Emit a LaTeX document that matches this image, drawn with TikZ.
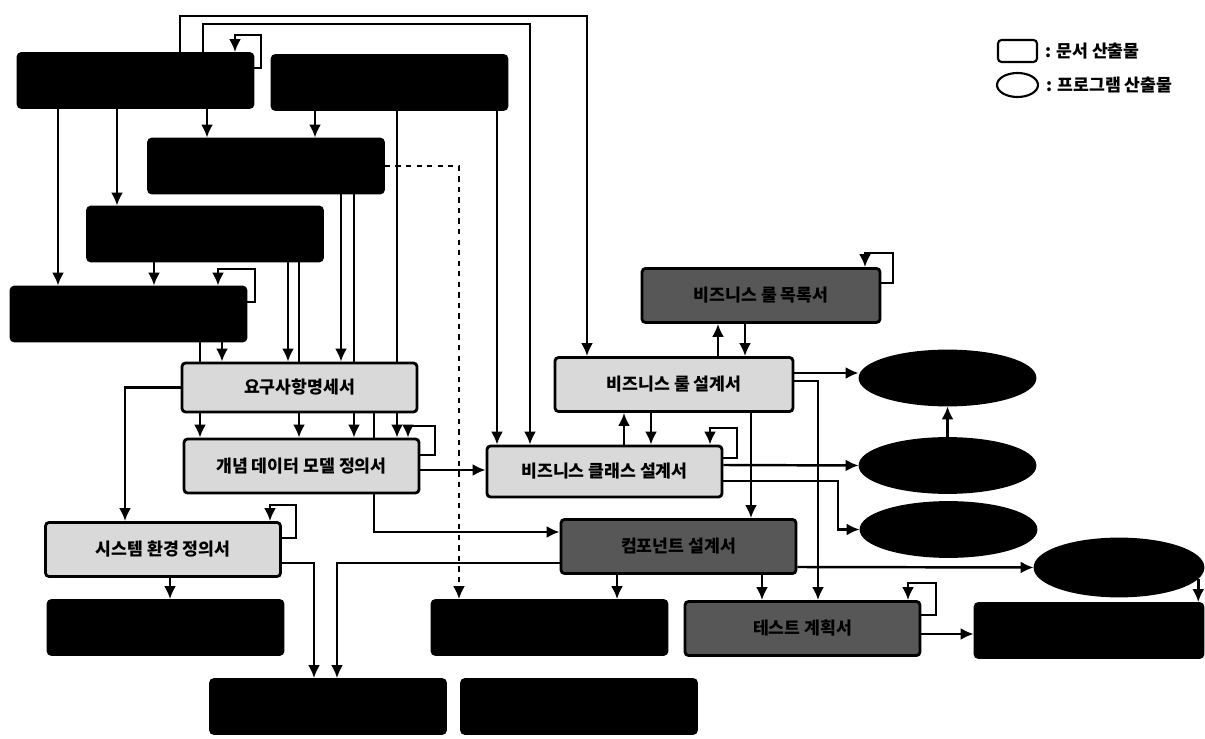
\documentclass[tikz,border=0pt]{standalone}
\usepackage{fontspec}
\setmainfont{Noto Sans CJK KR}
\usetikzlibrary{positioning,arrows.meta,shapes.geometric,backgrounds}
\tikzset{
  node distance=1mm,
  box/.style={draw=black, line width=1.6pt, rounded corners=2pt, inner sep=0pt,
              minimum width=47mm, minimum height=10.8mm},
  blk/.style={box, fill=black},
  doc/.style={box, fill=black!15, font=\fontsize{9.8}{11}\selectfont\bfseries},
  ddoc/.style={box, fill=black!66, font=\fontsize{9.8}{11}\selectfont\bfseries},
  prog/.style={ellipse, draw=black, fill=black, line width=1.6pt, inner sep=0pt,
               minimum width=35mm, minimum height=10.8mm},
  flow/.style={-{Latex[length=2.6mm,width=2.4mm]}, line width=1.4pt},
  key/.style={font=\fontsize{9.8}{11}\selectfont\bfseries, anchor=west, inner sep=1pt},
}

\begin{document}
\begin{tikzpicture}[x=0.2mm,y=-0.2mm]
  \useasboundingbox (0,0) rectangle (1205,739);

  % legend
  \node[draw, line width=1.2pt, rounded corners=2pt, inner sep=0pt,
        minimum width=7.8mm, minimum height=4.4mm] (kdoc) at (1017.5,51) {};
  \node[ellipse, draw, line width=1.2pt, inner sep=0pt,
        minimum width=8.2mm, minimum height=4.8mm] (kprog) at (1017.5,85) {};
  \node[key, right=of kdoc] (kdoctxt) {: 문서 산출물};
  \node[key, right=of kprog] (kprogtxt) {: 프로그램 산출물};

  % upper documents
  \node[blk] (B1) at (135.5,80.5) {};
  \node[blk] (B2) at (389.5,82.5) {};
  \node[blk] (B3) at (266,166) {};
  \node[blk] (B4) at (205,234) {};
  \node[blk] (B5) at (128.5,314) {};

  \node[doc, minimum height=9.8mm] (R1) at (299.5,387.5) {요구사항명세서};
  \node[doc] (R2) at (301.5,466) {개념 데이터 모델 정의서};
  \node[doc] (R3) at (163,549.5) {시스템 환경 정의서};
  \node[doc, minimum width=47.6mm] (R4) at (674,384.5) {비즈니스 룰 설계서};
  \node[doc, minimum height=10.2mm] (R5) at (604.5,471.5) {비즈니스 클래스 설계서};

  \node[ddoc, minimum width=47.6mm] (D1) at (761,295.5) {비즈니스 룰 목록서};
  \node[ddoc] (D2) at (678.5,546.5) {컴포넌트 설계서};
  \node[ddoc] (D3) at (802.5,628.5) {테스트 계획서};

  % lower documents
  \node[blk] (B6) at (165.5,627.5) {};
  \node[blk] (B7) at (328,706.5) {};
  \node[blk] (B8) at (579,706.5) {};
  \node[blk] (B9) at (549.5,627.5) {};
  \node[blk, minimum width=45.6mm] (B10) at (1089,630.5) {};

  % programs
  \node[prog] (E1) at (947.5,378) {};
  \node[prog] (E2) at (947.5,465.5) {};
  \node[prog] (E3) at (948.5,529.5) {};
  \node[prog, minimum width=33.6mm, minimum height=11.4mm] (E4) at (1119,567.5) {};

  \begin{scope}[on background layer]
    % top routes
    \draw[flow] (B1.north -| 180,0) -- ++(0,-36) -| (R4.north -| 587,0);
    \draw[flow] (B1.north -| 203,0) -- ++(0,-28) -| (R5.north -| 530,0);
    \draw[flow] (B1.east |- 0,68) -| (261,35) -| (B1.north -| 235,0);

    \draw[flow] (B1.south -| 58,0) -- (B5.north -| 58,0);
    \draw[flow] (B1.south -| 117,0) -- (B4.north -| 117,0);
    \draw[flow] (B1.south -| 207,0) -- (B3.north -| 207,0);
    \draw[flow] (B2.south -| 315,0) -- (B3.north -| 315,0);
    \draw[flow] (B2.south -| 397,0) -- (R2.north -| 397,0);
    \draw[flow] (B2.south -| 497,0) -- (R5.north -| 497,0);
    \draw[flow] (B3.south -| 341,0) -- (R1.north -| 341,0);
    \draw[flow] (B3.south -| 354,0) -- (R2.north -| 354,0);
    \draw[flow, dashed] (B3.east) -| (B9.north -| 459,0);
    \draw[flow] (B4.south -| 154,0) -- (B5.north -| 154,0);
    \draw[flow] (B4.south -| 288,0) -- (R1.north -| 288,0);
    \draw[flow] (B4.south -| 299,0) -- (R2.north -| 299,0);
    \draw[flow] (B5.east |- 0,302) -| (255,269) -| (B5.north -| 218,0);
    \draw[flow] (B5.south -| 222,0) -- (R1.north -| 222,0);
    \draw[flow] (B5.south -| 200,0) -- (R2.north -| 200,0);

    % requirements
    \draw[flow] (R1.west) -| (R3.north -| 125,0);
    \draw[flow] (R1.south -| 374,0) |- (D2.west |- 0,532);
    \draw[flow] (R2.east |- 0,455) -| (435,426) -| (R2.north -| 408,0);
    \draw[flow] (R2.east |- 0,470) -- (R5.west |- 0,470);
    \draw[flow] (R3.east |- 0,538) -| (296,505) -| (R3.north -| 270,0);
    \draw[flow] (R3.south -| 170,0) -- (B6.north -| 170,0);
    \draw[flow] (R3.east |- 0,563) -| (B7.north -| 314,0);

    % business rules
    \draw[flow] (R4.north -| 718,0) -- (D1.south -| 718,0);
    \draw[flow] (D1.south -| 745,0) -- (R4.north -| 745,0);
    \draw[flow] (D1.east |- 0,283) -| (893,253) -| (D1.north -| 865,0);
    \draw[flow] (R4.east |- 0,373) -- (E1.west |- 0,373);
    \draw[flow] (R4.east |- 0,381) -| (D3.north -| 818,0);
    \draw[flow] (R5.north -| 624,0) -- (R4.south -| 624,0);
    \draw[flow] (R4.south -| 651,0) -- (R5.north -| 651,0);
    \draw[flow] (R4.south -| 751,0) -- (D2.north -| 751,0);
    \draw[flow] (E2) -- (E1);

    % business classes
    \draw[flow] (R5.east |- 0,458) -| (737,428) -| (R5.north -| 710,0);
    \draw[flow] (R5.east |- 0,465) -- (E2.west);
    \draw[flow] (R5.east |- 0,481) -| (838,529.5) -- (E3.west);

    % components, tests
    \draw[flow] (D2.west |- 0,563) -| (B7.north -| 337,0);
    \draw[flow] (D2.south -| 617,0) -- (B9.north -| 617,0);
    \draw[flow] (D2.south -| 762,0) -- (D3.north -| 762,0);
    \draw[flow] (D2.east |- 0,567) -- (E4.west);
    \draw[flow] (D3.east |- 0,615) -| (936,583) -| (D3.north -| 908,0);
    \draw[flow] (D3.east |- 0,634) -- (B10.west |- 0,634);
    \draw[flow] (E4.-8) -- (E4.-8 |- B10.north);
  \end{scope}
\end{tikzpicture}
\end{document}
